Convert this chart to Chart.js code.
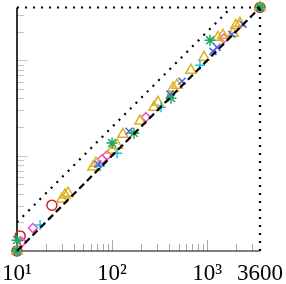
<!DOCTYPE html>
<html>
<head>
<meta charset="utf-8">
<script src="https://cdn.jsdelivr.net/npm/chart.js@4"></script>
<style>
  html, body { margin: 0; padding: 0; background: #fff; }
</style>
</head>
<body>
<canvas id="mycanvas" width="286" height="284"></canvas>
<script>
// axis range and tick labels
var xMin = 10, xMax = 3600;
var xTicks = [10, 100, 1000, 3600];
var xTickLabels = ['10\u00b9', '10\u00b2', '10\u00b3', '3600'];

// reference lines
var diagX = [10, 3600];
var diagY = [10, 3600];
var doubleX = [10, 1800];
var doubleY = [20, 3600];
var limitTopX = [10, 3600];
var limitTopY = [3600, 3600];
var limitRightX = [3600, 3600];
var limitRightY = [10, 3600];

// series (x = time A, y = time B)
var redX = [10, 10.8, 23.3, 3600];
var redY = [10, 14.4, 30.3, 3600];

var magentaX = [10, 11.3, 14.7, 78.5, 88.5, 227, 1500, 3600];
var magentaY = [10, 12.4, 17.4, 92, 101, 254, 1700, 3600];

var cyanX = [10, 17.5, 74.6, 113, 327, 841, 3600];
var cyanY = [10, 18.7, 77.8, 106, 323, 891, 3600];

var blueX = [10, 71, 151, 406, 545, 1153, 1270, 1823, 2382, 3600];
var blueY = [10, 81.7, 181, 443, 605, 1248, 1375, 1885, 2400, 3600];

var greenX = [10, 10, 100, 170, 417, 1073, 3600];
var greenY = [10, 13, 136, 172.6, 402, 1630, 3600];

var orangeX = [10, 29.7, 32, 34.4, 63, 67.7, 99.7, 113, 130, 197, 276, 304, 438, 482, 676, 927, 1300, 1468, 1872, 2013, 2218, 3600];
var orangeY = [10, 35.1, 38.6, 40.5, 76, 83.6, 114, 129, 168, 231, 323, 364, 512, 550, 789, 1081, 1750, 1837, 1928, 2340, 2455, 3600];

function pts(xs, ys) {
    var out = [];
    for (var i in xs) {
        out.push({x: xs[i], y: ys[i]});
    }
    return out;
}

function lineSet(xs, ys, dash) {
    return {
        type: 'line',
        data: pts(xs, ys),
        borderColor: '#000',
        borderWidth: 2.2,
        borderDash: dash,
        pointRadius: 0,
        fill: false,
        clip: false,
        order: 0
    };
}

function markSet(xs, ys, color, style, radius) {
    return {
        type: 'scatter',
        data: pts(xs, ys),
        borderColor: color,
        backgroundColor: 'rgba(0,0,0,0)',
        borderWidth: 1.5,
        pointStyle: style,
        pointRadius: radius,
        clip: false,
        order: 1
    };
}

// axes lines and inward log ticks
var tickPlugin = {
    id: 'logTicks',
    beforeDatasetsDraw: function(chart) {
        var ctx = chart.ctx;
        var xs = chart.scales.x, ys = chart.scales.y;
        var area = chart.chartArea;
        ctx.save();
        ctx.lineWidth = 1;
        for (var k = 1; k <= 3; k++) {
            for (var m = 1; m <= 9; m++) {
                var v = m * Math.pow(10, k);
                if (v <= 10 || v >= 3600) continue;
                var len = (m == 1) ? 11 : 7;
                var px = Math.round(xs.getPixelForValue(v)) + 0.5;
                ctx.strokeStyle = '#a8a8a8';
                ctx.beginPath();
                ctx.moveTo(px, area.bottom);
                ctx.lineTo(px, area.bottom - len);
                ctx.stroke();
                var py = Math.round(ys.getPixelForValue(v)) + 0.5;
                ctx.strokeStyle = '#c4c4c4';
                ctx.beginPath();
                ctx.moveTo(area.left, py);
                ctx.lineTo(area.left + len, py);
                ctx.stroke();
            }
        }
        ctx.lineWidth = 1.6;
        ctx.strokeStyle = '#555';
        ctx.beginPath();
        ctx.moveTo(area.left, area.bottom);
        ctx.lineTo(area.right, area.bottom);
        ctx.stroke();
        ctx.strokeStyle = '#000';
        ctx.beginPath();
        ctx.moveTo(area.left, area.bottom);
        ctx.lineTo(area.left, area.top);
        ctx.stroke();
        ctx.restore();
    }
};

var ctx = document.getElementById('mycanvas');

var chart = new Chart(ctx, {
    data: {
        datasets: [
            lineSet(diagX, diagY, [7, 4]),
            lineSet(doubleX, doubleY, [2, 6]),
            lineSet(limitTopX, limitTopY, [2, 6]),
            lineSet(limitRightX, limitRightY, [2, 6]),
            markSet(greenX, greenY, '#1fa860', 'star', 5.5),
            markSet(blueX, blueY, '#5060e0', 'crossRot', 5),
            markSet(cyanX, cyanY, '#10c8f0', 'cross', 5),
            markSet(orangeX, orangeY, '#e0b020', 'triangle', 6),
            markSet(magentaX, magentaY, '#f050c8', 'rectRot', 4.5),
            markSet(redX, redY, '#d02828', 'circle', 5)
        ]
    },
    options: {
        responsive: false,
        devicePixelRatio: 1,
        animation: false,
        layout: { padding: { top: 7, right: 26, left: 0, bottom: 0 } },
        plugins: {
            legend: { display: false },
            tooltip: { enabled: false }
        },
        scales: {
            x: {
                type: 'logarithmic',
                min: xMin,
                max: xMax,
                grid: { display: false },
                border: { display: false },
                afterBuildTicks: function(scale) {
                    scale.ticks = xTicks.map(function(v) { return {value: v}; });
                },
                afterFit: function(scale) { scale.height = 33; },
                ticks: {
                    autoSkip: false,
                    maxRotation: 0,
                    padding: 1,
                    color: '#000',
                    font: { family: 'Liberation Serif', size: 23 },
                    callback: function(value, index) { return xTickLabels[index]; }
                }
            },
            y: {
                type: 'logarithmic',
                min: xMin,
                max: xMax,
                grid: { display: false },
                border: { display: false },
                ticks: { display: false },
                afterFit: function(scale) { scale.width = 17; }
            }
        }
    },
    plugins: [tickPlugin]
});
</script>
</body>
</html>
